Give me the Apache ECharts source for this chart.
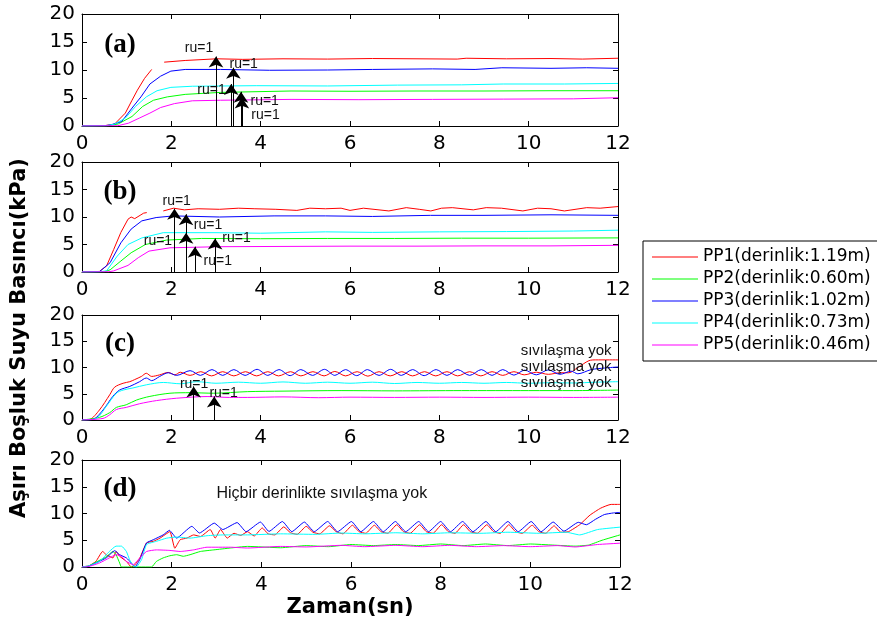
<!DOCTYPE html>
<html><head><meta charset="utf-8">
<script src="https://cdn.jsdelivr.net/npm/echarts@6/dist/echarts.min.js"></script>
<style>html,body{margin:0;padding:0;background:#fff}#c{width:877px;height:632px}</style>
</head><body><div id="c"></div>
<script>
// ---------- labels ----------
const seriesNames = ['PP1(derinlik:1.19m)','PP2(derinlik:0.60m)','PP3(derinlik:1.02m)','PP4(derinlik:0.73m)','PP5(derinlik:0.46m)'];
const seriesColors = ['#ff0000','#00ff00','#0000ff','#00ffff','#ff00ff'];
const panelLabels = ['(a)','(b)','(c)','(d)'];
const xTickMin = 0, xTickMax = 12, xTickStep = 2;
const yTickMin = 0, yTickMax = 20, yTickStep = 5;
const xTitle = 'Zaman(sn)';
const yTitle = 'Aşırı Boşluk Suyu Basıncı(kPa)';

// ---------- panel (a) ----------
const a_PP1 = [[0,0],[0.5,0.05],[0.73,0.35],[0.97,2.3],[1.12,4.6],[1.24,6.4],[1.4,8.5],[1.56,10.1],[1.7,'-'],[1.84,11.4],[2.31,11.7],[3.02,12.0],[3.6,11.9],[4.5,12.0],[5.5,11.95],[6.5,12.05],[7.5,12.0],[8.4,11.95],[8.6,12.1],[9.5,12.0],[10.5,12.05],[11.2,11.95],[12,12.1]];
const a_PP2 = [[0,0],[0.6,0.05],[0.81,0.36],[1.12,1.7],[1.36,3.5],[1.6,4.6],[1.91,5.2],[2.31,5.65],[3.1,6.0],[4.68,6.25],[6,6.2],[7.5,6.25],[9,6.25],[10.5,6.3],[12,6.3]];
const a_PP3 = [[0,0],[0.5,0.05],[0.65,0.2],[0.89,0.8],[1.12,3.2],[1.32,5.2],[1.52,7.5],[1.76,8.9],[1.99,9.8],[2.31,10.1],[3.1,10.1],[4.2,9.95],[5.5,10.0],[6.5,10.1],[7.85,10.2],[8.8,10.1],[9.4,10.4],[10.5,10.3],[11.3,10.4],[12,10.3]];
const a_PP4 = [[0,0],[0.55,0.05],[0.73,0.35],[0.97,1.4],[1.2,3.5],[1.44,5.2],[1.68,6.3],[1.99,6.9],[2.47,7.1],[3.9,7.2],[5.5,7.15],[7.06,7.3],[8.5,7.35],[9.43,7.5],[10.8,7.5],[12,7.6]];
const a_PP5 = [[0,0],[0.8,0.05],[1.04,0.5],[1.28,1.4],[1.52,2.3],[1.76,3.3],[2.07,4.0],[2.47,4.5],[3.1,4.6],[4.68,4.75],[6.2,4.7],[7.85,4.75],[9.43,4.8],[11,4.85],[12,5.05]];
const a_arrows = [[3.0,12.4],[3.39,10.4],[3.34,7.5],[3.56,6.1],[3.58,5.1]];
const a_notes = [[2.62,13.9,'ru=1'],[3.62,11.0,'ru=1'],[2.9,6.4,'ru=1'],[4.09,4.5,'ru=1'],[4.11,2.0,'ru=1']];

// ---------- panel (b) ----------
const b_PP1 = [[0,0],[0.39,0.1],[0.55,1.1],[0.71,4.1],[0.87,7.2],[1.03,9.6],[1.1,10.0],[1.18,9.7],[1.3,10.3],[1.38,10.7],[1.45,10.8],[1.6,'-'],[1.82,11.1],[2.05,11.6],[2.29,11.3],[2.6,11.5],[3.08,11.4],[3.5,11.6],[3.87,11.5],[4.34,11.4],[4.81,11.2],[5.1,11.6],[5.45,11.5],[5.8,11.6],[6.0,11.2],[6.3,11.6],[6.87,11.1],[7.26,11.7],[7.55,11.4],[7.81,11.1],[8.05,11.6],[8.29,11.7],[8.76,11.3],[9.05,11.7],[9.39,11.6],[9.87,11.1],[10.2,11.6],[10.5,11.5],[10.8,11.1],[11.3,11.7],[11.6,11.6],[12,11.9]];
const b_PP2 = [[0,0],[0.5,0.05],[0.63,0.4],[0.87,2.0],[1.1,3.5],[1.42,5.0],[1.89,5.8],[2.68,6.1],[4,6.05],[5.5,6.1],[7,6.1],[8.5,6.15],[10,6.15],[12,6.2]];
const b_PP3 = [[0,0],[0.39,0.05],[0.63,1.7],[0.87,5.3],[1.1,7.8],[1.34,9.3],[1.66,9.9],[2.05,10.2],[3.08,10.0],[4.3,10.2],[5.45,10.2],[6.5,10.1],[7.8,10.3],[9,10.3],[10.5,10.4],[12,10.3]];
const b_PP4 = [[0,0],[0.4,0.05],[0.55,0.2],[0.79,2.9],[1.03,5.0],[1.34,6.2],[1.82,7.15],[3,7.15],[4,7.05],[5.45,7.3],[6.5,7.2],[8,7.3],[9.5,7.35],[11,7.45],[12,7.6]];
const b_PP5 = [[0,0],[0.6,0.05],[0.71,0.2],[1.03,1.2],[1.26,2.6],[1.5,3.8],[1.97,4.4],[3.08,4.6],[4.5,4.65],[6,4.7],[7.5,4.7],[9,4.75],[10.5,4.75],[12,4.85]];
const b_arrows = [[2.07,11.5],[2.33,10.5],[2.33,7.15],[2.53,4.6],[2.98,6.1]];
const b_notes = [[2.12,12.9,'ru=1'],[2.82,8.5,'ru=1'],[1.7,5.6,'ru=1'],[3.04,2.0,'ru=1'],[3.46,6.2,'ru=1']];

// ---------- panel (c) ----------
const c_PP1 = [[0,0],[0.17,0.1],[0.39,1.9],[0.62,4.8],[0.73,6.25],[0.92,7.0],[1.07,7.3],[1.18,7.7],[1.33,8.3],[1.44,8.9],[1.56,8.3],[1.74,8.6],[1.93,9.06],[2.08,8.6],[2.2,9.1],[2.42,8.5],[2.66,9.2],[2.9,8.4],[3.15,9.2],[3.4,8.4],[3.66,9.2],[3.91,8.4],[4.16,9.2],[4.4,8.4],[4.67,9.2],[4.9,8.4],[5.17,9.2],[5.42,8.4],[5.66,9.25],[5.9,8.4],[6.16,9.2],[6.4,8.35],[6.65,9.2],[6.9,8.4],[7.16,9.2],[7.4,8.4],[7.67,9.2],[7.92,8.4],[8.17,9.2],[8.41,8.4],[8.68,9.2],[8.93,8.4],[9.18,9.2],[9.42,8.5],[9.67,9.2],[9.9,8.6],[10.17,9.1],[10.44,8.7],[10.7,9.0],[10.9,9.0],[11.1,10.0],[11.35,11.3],[11.5,11.45],[12,11.45]];
const c_PP2 = [[0,0],[0.39,0.5],[0.62,1.4],[0.77,2.4],[0.99,2.9],[1.22,3.8],[1.52,4.5],[1.97,5.1],[2.42,5.2],[2.95,5.1],[3.7,5.4],[4.5,5.5],[5.8,5.6],[7,5.55],[8.5,5.6],[10,5.6],[11,5.6],[12,5.7]];
const c_PP3 = [[0,0],[0.24,0.1],[0.47,1.9],[0.69,4.5],[0.84,5.7],[1.07,6.4],[1.29,7.3],[1.44,8.0],[1.56,7.5],[1.74,8.3],[1.93,9.0],[2.12,8.5],[2.42,9.4],[2.65,8.5],[2.91,9.6],[3.15,8.5],[3.4,9.6],[3.65,8.5],[3.92,9.65],[4.16,8.5],[4.41,9.6],[4.66,8.45],[4.9,9.6],[5.16,8.5],[5.43,9.65],[5.66,8.5],[5.9,9.6],[6.15,8.45],[6.39,9.6],[6.65,8.5],[6.91,9.65],[7.15,8.5],[7.4,9.6],[7.66,8.45],[7.93,9.6],[8.17,8.5],[8.41,9.6],[8.68,8.5],[8.94,9.6],[9.18,8.5],[9.42,9.6],[9.67,8.55],[9.91,9.5],[10.17,8.6],[10.44,9.55],[10.7,8.7],[10.95,9.3],[11.1,8.8],[11.4,9.6],[11.7,9.9],[12,10.1]];
const c_PP4 = [[0,0],[0.32,0.3],[0.54,2.55],[0.77,5.1],[0.92,5.7],[1.14,6.1],[1.44,6.7],[1.82,7.15],[2.2,6.9],[2.57,7.3],[3.0,7.0],[3.5,7.2],[4.0,7.0],[4.5,7.25],[5.0,7.0],[5.5,7.2],[6.0,7.0],[6.5,7.2],[7.0,6.95],[7.5,7.15],[8.0,7.0],[8.5,7.15],[9.0,7.0],[9.5,7.15],[10.0,7.0],[10.5,7.1],[11.0,7.05],[11.5,7.2],[12,7.3]];
const c_PP5 = [[0,0],[0.47,0.3],[0.62,1.0],[0.77,2.0],[0.99,2.4],[1.29,3.1],[1.67,3.7],[2.12,4.15],[2.8,4.47],[3.3,4.3],[3.7,4.3],[4.5,4.4],[5.3,4.25],[6,4.35],[7,4.3],[8,4.35],[9,4.3],[10,4.35],[11,4.3],[12,4.35]];
const c_arrows = [[2.5,6.4],[2.96,4.5]];
const c_notes = [[2.51,6.8,'ru=1'],[3.17,5.2,'ru=1']];
const c_leftNotes = [[9.82,13.1,'sıvılaşma yok'],[9.82,10.1,'sıvılaşma yok'],[9.82,7.0,'sıvılaşma yok']];

// ---------- panel (d) ----------
const d_PP1 = [[0,0],[0.16,0.25],[0.31,1.05],[0.46,2.9],[0.54,2.3],[0.69,1.7],[0.76,2.9],[0.84,2.0],[0.99,1.05],[1.1,0],[1.18,0.4],[1.29,1.7],[1.44,4.5],[1.59,4.8],[1.74,5.4],[1.96,6.6],[2.07,3.5],[2.19,5.1],[2.34,5.4],[2.49,6.0],[2.64,5.7],[2.86,7.0],[2.97,5.4],[3.09,7.0],[3.24,5.4],[3.39,6.3],[3.54,5.9],[3.69,6.6],[3.84,5.8],[4.02,7.3],[4.15,6.2],[4.3,6.0],[4.5,7.5],[4.65,6.4],[4.8,6.1],[5.0,7.6],[5.15,6.5],[5.3,6.2],[5.52,7.7],[5.67,6.6],[5.82,6.2],[6.03,7.8],[6.18,6.6],[6.33,6.3],[6.52,7.8],[6.67,6.6],[6.82,6.3],[7.02,7.9],[7.17,6.6],[7.32,6.3],[7.53,7.9],[7.68,6.6],[7.83,6.3],[8.02,7.9],[8.17,6.6],[8.32,6.3],[8.51,7.9],[8.66,6.6],[8.82,6.3],[9.03,7.9],[9.18,6.6],[9.33,6.3],[9.52,7.9],[9.67,6.6],[9.82,6.3],[10.04,7.8],[10.19,6.6],[10.34,6.3],[10.53,7.7],[10.68,6.5],[10.85,6.6],[11.1,7.9],[11.33,9.7],[11.57,11.0],[11.8,11.7],[12,11.7]];
const d_PP2 = [[0,0],[0.09,0],[0.31,0.9],[0.54,1.9],[0.69,2.9],[0.76,2.3],[0.84,0.75],[0.88,0],[1.55,0],[1.66,1.05],[1.81,1.7],[1.96,2.1],[2.11,2.3],[2.26,2.0],[2.41,2.3],[2.64,2.9],[2.94,3.2],[3.31,3.55],[3.69,3.85],[4.43,3.6],[5.0,4.0],[5.5,3.8],[6.0,4.2],[6.5,4.0],[7.0,4.2],[7.5,4.0],[8.0,4.3],[8.5,4.0],[9.0,4.3],[9.5,4.0],[10.0,4.3],[10.5,4.1],[11.0,3.9],[11.3,4.1],[11.6,5.0],[12,6.0]];
const d_PP3 = [[0,0],[0.09,0],[0.31,0.75],[0.54,1.7],[0.73,3.05],[0.84,2.3],[0.99,1.7],[1.1,0.75],[1.18,0],[1.29,1.4],[1.44,4.5],[1.59,5.1],[1.81,6.0],[1.95,6.85],[2.11,5.4],[2.45,7.6],[2.62,6.35],[2.95,8.2],[3.14,7.0],[3.46,8.3],[3.66,6.6],[3.98,8.4],[4.17,6.65],[4.47,8.5],[4.68,6.6],[4.96,8.4],[5.18,6.6],[5.48,8.5],[5.7,6.6],[6.01,8.5],[6.22,6.6],[6.5,8.5],[6.72,6.6],[6.99,8.5],[7.22,6.6],[7.51,8.5],[7.73,6.6],[8.0,8.5],[8.22,6.6],[8.49,8.5],[8.72,6.6],[9.01,8.5],[9.23,6.6],[9.5,8.5],[9.73,6.6],[10.02,8.5],[10.24,6.6],[10.51,8.4],[10.75,6.7],[11.07,8.35],[11.25,7.9],[11.45,8.9],[11.65,9.8],[11.85,10.1],[12,10.2]];
const d_PP4 = [[0,0],[0.16,0.25],[0.39,1.05],[0.61,2.9],[0.76,3.9],[0.88,3.9],[0.99,2.9],[1.06,1.4],[1.14,0.25],[1.21,0],[1.33,1.4],[1.44,4.2],[1.66,4.8],[1.89,5.4],[2.11,5.6],[2.41,5.4],[2.79,5.85],[3.16,6.0],[3.69,6.0],[4.43,6.2],[5.2,6.1],[5.78,6.35],[6.3,6.2],[7.0,6.4],[7.6,6.2],[8.2,6.4],[8.9,6.3],[9.5,6.5],[10.2,6.3],[10.8,6.5],[11.1,6.0],[11.5,7.0],[12,7.45]];
const d_PP5 = [[0,0],[0.09,0],[0.39,0.75],[0.61,1.7],[0.76,2.3],[0.88,2.0],[0.99,1.05],[1.14,0.45],[1.29,1.7],[1.44,2.9],[1.66,3.2],[1.96,3.1],[2.19,2.9],[2.49,3.2],[2.79,3.7],[3.31,3.7],[3.69,3.55],[4.43,3.85],[5.0,3.75],[5.78,4.05],[6.3,3.8],[7.0,4.05],[7.6,3.8],[8.2,4.05],[8.8,3.8],[9.4,4.0],[10.0,3.8],[10.6,4.0],[11.0,3.75],[11.5,4.2],[12,4.45]];
const d_leftNotes = [[3.0,13.8,'Hiçbir derinlikte sıvılaşma yok']];

const panelLabelPos = [0.85, 14.5];

// ---------- build ----------
const panels = [
  {lines:[a_PP1,a_PP2,a_PP3,a_PP4,a_PP5], arrows:a_arrows, notes:a_notes, leftNotes:[], noteSize:15, smooth:false},
  {lines:[b_PP1,b_PP2,b_PP3,b_PP4,b_PP5], arrows:b_arrows, notes:b_notes, leftNotes:[], noteSize:15, smooth:false},
  {lines:[c_PP1,c_PP2,c_PP3,c_PP4,c_PP5], arrows:c_arrows, notes:c_notes, leftNotes:c_leftNotes, noteSize:15, smooth:0.3},
  {lines:[d_PP1,d_PP2,d_PP3,d_PP4,d_PP5], arrows:[], notes:[], leftNotes:d_leftNotes, noteSize:16, smooth:0.15}
];
const gridBoxes = [
  {left:82, width:536, top:14, height:112},
  {left:82, width:536, top:162, height:110},
  {left:82, width:536, top:315, height:105},
  {left:82, width:538, top:460, height:107}
];
const tickFont = {fontFamily:'DejaVu Sans', fontSize:20, color:'#000'};
const axisLine = {show:true, onZero:false, lineStyle:{color:'#000', width:1}};
const axisTick = {show:true, inside:true, length:5, lineStyle:{color:'#000', width:1}};

const grid = [], xAxis = [], yAxis = [], series = [];
panels.forEach((p, k) => {
  grid.push(Object.assign({containLabel:false}, gridBoxes[k]));
  xAxis.push({type:'value', gridIndex:k, min:xTickMin, max:xTickMax, interval:xTickStep, position:'bottom',
    axisLine, axisTick, splitLine:{show:false}, axisLabel:Object.assign({margin:8}, tickFont)});
  xAxis.push({type:'value', gridIndex:k, min:xTickMin, max:xTickMax, interval:xTickStep, position:'top',
    axisLine, axisTick, splitLine:{show:false}, axisLabel:{show:false}});
  yAxis.push({type:'value', gridIndex:k, min:yTickMin, max:yTickMax, interval:yTickStep, position:'left',
    axisLine, axisTick, splitLine:{show:false}, axisLabel:Object.assign({margin:7}, tickFont)});
  yAxis.push({type:'value', gridIndex:k, min:yTickMin, max:yTickMax, interval:yTickStep, position:'right',
    axisLine, axisTick, splitLine:{show:false}, axisLabel:{show:false}});
  p.lines.forEach((d, s) => {
    series.push({type:'line', name:seriesNames[s], xAxisIndex:2*k, yAxisIndex:2*k, data:d,
      symbol:'none', smooth:p.smooth, lineStyle:{width:1, color:seriesColors[s]}, itemStyle:{color:seriesColors[s]},
      silent:true, z:2});
  });
  const textData = [];
  textData.push({name:panelLabels[k], value:panelLabelPos,
    label:{show:true, position:'inside', formatter:'{b}', fontFamily:'Liberation Serif', fontWeight:'bold', fontSize:27, color:'#000', opacity:1}});
  p.notes.forEach(n => textData.push({name:n[2], value:[n[0], n[1]],
    label:{show:true, position:'inside', formatter:'{b}', fontFamily:'Liberation Sans', fontSize:14, color:'#111', opacity:1}}));
  p.leftNotes.forEach(n => textData.push({name:n[2], value:[n[0], n[1]],
    label:{show:true, position:'right', distance:0, formatter:'{b}', fontFamily:'Liberation Sans', fontSize:p.noteSize, color:'#111', opacity:1}}));
  series.push({type:'scatter', name:'notes'+k, xAxisIndex:2*k, yAxisIndex:2*k, symbolSize:0, data:textData, silent:true, z:5,
    itemStyle:{opacity:1},
    markLine:{silent:true, symbol:['none','arrow'], symbolSize:11, animation:false,
      lineStyle:{color:'#000', width:1, type:'solid', opacity:1}, itemStyle:{color:'#000'}, label:{show:false},
      data:p.arrows.map(a => [{coord:[a[0], 0]}, {coord:[a[0], a[1]]}])}});
});

const chart = echarts.init(document.getElementById('c'), null, {renderer:'canvas'});
chart.setOption({
  animation:false,
  backgroundColor:'#fff',
  grid, xAxis, yAxis, series,
  legend:{data:seriesNames.map(n => ({name:n, icon:'rect'})), orient:'vertical', left:643, top:241, itemWidth:46, itemHeight:1, itemGap:4,
    padding:[7,60,7,9], borderColor:'#000', borderWidth:1, backgroundColor:'#fff', selectedMode:false,
    textStyle:{fontFamily:'DejaVu Sans', fontSize:17, color:'#000', lineHeight:18}},
  graphic:[
    {type:'text', x:20, y:338, rotation:Math.PI/2, style:{text:yTitle, fontFamily:'DejaVu Sans', fontWeight:'bold', fontSize:21, fill:'#000', textAlign:'center', textVerticalAlign:'middle'}},
    {type:'text', x:350, y:608, style:{text:xTitle, fontFamily:'DejaVu Sans', fontWeight:'bold', fontSize:21, fill:'#000', textAlign:'center', textVerticalAlign:'middle'}}
  ]
});
</script></body></html>
